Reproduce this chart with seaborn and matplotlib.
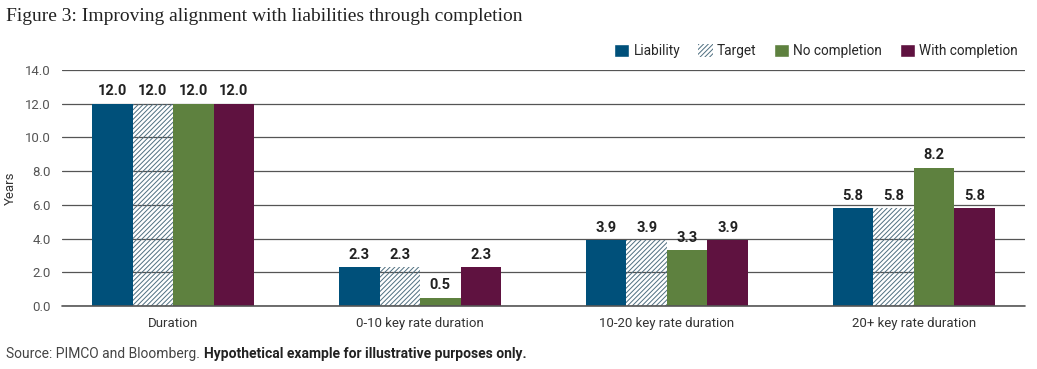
import pandas as pd
import numpy as np
import matplotlib.pyplot as plt
import seaborn as sns
from matplotlib.patches import Patch

# 데이터
categories = ['Duration', '0-10 key rate duration', '10-20 key rate duration', '20+ key rate duration']
series = ['Liability', 'Target', 'No completion', 'With completion']
liability = [12.0, 2.3, 3.9, 5.8]
target = [12.0, 2.3, 3.9, 5.8]
no_completion = [12.0, 0.5, 3.3, 8.2]
with_completion = [12.0, 2.3, 3.9, 5.8]

colors = ['#00507a', '#ffffff', '#5e813f', '#5f1240']
hatch_color = '#4f6f80'

df = pd.DataFrame({
    'category': categories * 4,
    'series': [s for s in series for _ in categories],
    'value': liability + target + no_completion + with_completion,
})

sns.set_style('white')
plt.rcParams['font.family'] = ['Roboto', 'DejaVu Sans']
plt.rcParams['hatch.color'] = hatch_color
plt.rcParams['hatch.linewidth'] = 0.7

fig = plt.figure(figsize=(10.37, 3.69), dpi=100)
ax = fig.add_axes([62 / 1037, 63 / 369, 963 / 1037, 236 / 369])

sns.barplot(data=df, x='category', y='value', hue='series', palette=colors,
            width=0.656, gap=0, saturation=1, linewidth=0, ax=ax, legend=False, zorder=2)

# Target 막대: 빗금
tgt = ax.containers[1]
for b in tgt:
    b.set_facecolor('none')
    b.set_hatch('///////')
    b.set_edgecolor(hatch_color)
    b.set_linewidth(0)

for c in ax.containers:
    ax.bar_label(c, fmt='%.1f', padding=4, fontsize=10.5, fontweight='bold', color='#222222')

ax.set_ylim(0, 14)
ax.set_yticks(np.arange(0, 15, 2))
ax.set_yticklabels([f'{v:.1f}' for v in np.arange(0, 15, 2)], fontsize=9.5, color='#555555')
ax.yaxis.grid(True, color='#555555', linewidth=0.9, zorder=0)
ax.axhline(0, color='#555555', linewidth=1.2, zorder=3, clip_on=False)
ax.set_axisbelow(True)
for s in ['top', 'right', 'left', 'bottom']:
    ax.spines[s].set_visible(False)
ax.tick_params(axis='x', length=0, labelsize=9.5, labelcolor='#333333', pad=8)
ax.tick_params(axis='y', length=0, pad=8)
ax.set_xlabel('')
ax.set_ylabel('Years', fontsize=9.5, color='#333333', labelpad=6)
ax.set_xlim(-0.45, 3.45)

handles = [Patch(facecolor=colors[0]),
           Patch(facecolor='white', hatch='///////', edgecolor=hatch_color, linewidth=0),
           Patch(facecolor=colors[2]),
           Patch(facecolor=colors[3])]
fig.legend(handles, series, loc='upper right', bbox_to_anchor=(0.993, 0.915), ncol=4,
           frameon=False, fontsize=9.8, handlelength=1.1, handleheight=1.1,
           handletextpad=0.3, columnspacing=1.3)

fig.text(0.006, 0.955, 'Figure 3: Improving alignment with liabilities through completion',
         family=['Liberation Serif', 'DejaVu Serif'], fontsize=14, color='#222222', va='center')
t1 = fig.text(0.006, 0.04, 'Source: PIMCO and Bloomberg. ', fontsize=10, color='#444444', va='center')
ax.annotate('Hypothetical example for illustrative purposes only.', xy=(1, 0.5), xycoords=t1,
            va='center', ha='left', fontsize=10, fontweight='bold', color='#222222',
            annotation_clip=False)

fig.savefig('out.png', dpi=100)
